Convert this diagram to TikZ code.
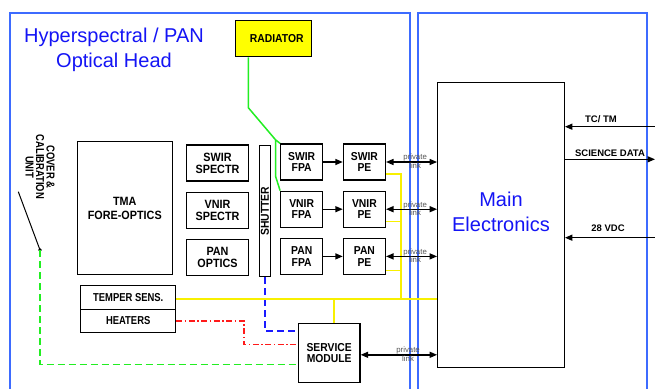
\documentclass[tikz,border=0pt]{standalone}
\usepackage{fontspec}
\setmainfont{Liberation Sans}
\newfontfamily\narrowsans[FakeStretch=0.9]{Liberation Sans}
\newfontfamily\tightsans[FakeStretch=0.82]{Liberation Sans}
\usetikzlibrary{arrows.meta,positioning,calc}
\definecolor{frameBlue}{HTML}{3D6BFF}
\definecolor{titleBlue}{HTML}{1414F5}
\definecolor{radYellow}{HTML}{FFFF00}
\definecolor{wireGreen}{HTML}{22EE22}
\definecolor{wireYellow}{HTML}{F8F000}
\definecolor{wireRed}{HTML}{FF1A1A}
\definecolor{wireBlue}{HTML}{1A1AFF}
\definecolor{linkGray}{HTML}{555555}

\begin{document}
\begin{tikzpicture}[x=1pt, y=-1pt, node distance=10pt and 19.5pt]
\tikzset{unit/.style={rectangle, draw=black, line width=1.2pt, fill=white, align=center,
  font=\narrowsans\bfseries\fontsize{11.5}{11.5}\selectfont, inner sep=1pt},
 fpabox/.style={unit, minimum width=42pt, minimum height=36pt},
 optbox/.style={unit, minimum width=62.6pt, minimum height=36pt, font=\narrowsans\bfseries\fontsize{12}{12}\selectfont},
 strip/.style={unit, minimum width=95pt, minimum height=23.4pt, font=\tightsans\bfseries\fontsize{11.5}{12}\selectfont},
 panel/.style={draw=frameBlue, line width=1.4pt},
 arr/.style={-{Triangle[length=7.5pt,width=6pt]}, line width=1.4pt},
 darr/.style={{Triangle[length=7.5pt,width=6pt]}-{Triangle[length=7.5pt,width=6pt]}, line width=1.4pt},
 linklbl/.style={font=\fontsize{7.8}{8}\selectfont, text=linkGray, inner sep=0.3pt},
 siglbl/.style={font=\bfseries\fontsize{9.5}{10}\selectfont, inner sep=1pt, anchor=south},
 bluetext/.style={font=\fontsize{20}{25}\selectfont, text=titleBlue, align=center},
 gwire/.style={draw=wireGreen, line width=1.5pt},
 ywire/.style={draw=wireYellow, line width=1.6pt},
 gdash/.style={draw=wireGreen, line width=1.5pt, dash pattern=on 7pt off 4pt},
 bdash/.style={draw=wireBlue, line width=1.7pt, dash pattern=on 7pt off 4pt},
 rdashdot/.style={draw=wireRed, line width=1.3pt, dash pattern=on 6pt off 2.5pt on 1.5pt off 2.5pt}}

\useasboundingbox (0,0) rectangle (655,388);
\fill[white] (0,0) rectangle (655,388);

% the two housings
\draw[panel] (10,392) |- (410,13) -- (410,392);
\draw[panel] (418,392) |- (647,13) -- (647,392);
\node[bluetext] (title) at (114,50) {Hyperspectral / PAN\\Optical Head};

% optical head
\node[unit, fill=radYellow, minimum width=76pt, minimum height=36pt] (radiator) at (273.7,38.7) {\hspace{6pt}RADIATOR};
\node[unit, minimum width=95pt, minimum height=132.6pt, font=\narrowsans\bfseries\fontsize{12}{14}\selectfont] (tma) at (124.8,208) {TMA\\FORE-OPTICS};

\node[optbox] (swirspec) at (217.5,163) {SWIR\\SPECTR};
\node[optbox, below=of swirspec] (vnirspec) {VNIR\\SPECTR};
\node[optbox, below=of vnirspec] (panopt) {PAN\\OPTICS};
\node[unit, rotate=90, minimum width=131pt, minimum height=10.7pt, inner sep=0pt] (shutter) at (265,211.2) {SHUTTER};

\node[fpabox] (swirfpa) at (301.7,162) {SWIR\\FPA};
\node[fpabox, right=of swirfpa] (swirpe) {SWIR\\PE};
\node[fpabox, below=of swirfpa] (vnirfpa) {VNIR\\FPA};
\node[fpabox, right=of vnirfpa] (vnirpe) {VNIR\\PE};
\node[fpabox, below=of vnirfpa] (panfpa) {PAN\\FPA};
\node[fpabox, right=of panfpa] (panpe) {PAN\\PE};

\node[strip] (temper) at (128.2,297.5) {TEMPER SENS.};
\node[strip, below=-1.2pt of temper] (heaters) {HEATERS};
\node[unit, minimum width=61.7pt, minimum height=59pt] (service) at (329.2,352.8) {SERVICE\\MODULE};

\node[rotate=-90, align=center, inner sep=0pt, font=\tightsans\bfseries\fontsize{11.5}{10.5}\selectfont] (cover) at (40,167) {COVER \&\\CALIBRATION\\UNIT};
\coordinate (leverTop) at (18.3,191.7);
\coordinate (leverPin) at (40,250);
\draw[line width=1pt] (leverTop) -- (leverPin);
\fill (leverPin) circle (1.8pt);

% main electronics
\node[unit, minimum width=126.6pt, minimum height=285pt] (mainel) at (501,225.2) {};
\node[bluetext] (mainlbl) at (501,212.3) {Main\\Electronics};

% harness
\coordinate (gbend) at (248.3,107.7);
\coordinate (gsplit) at (275.7,140);
\draw[gwire] ([xshift=-25.4pt]radiator.south) -- (gbend) -- (gsplit) -- (swirfpa.north west);
\draw[gwire] (gsplit) -- ++(0,36.7) -- (vnirfpa.north west);
\draw[gdash] (leverPin) |- ([yshift=18.5pt]service.south west);
\draw[bdash] (shutter.west) |- ([yshift=-8.4pt]service.north west);
\draw[rdashdot] (heaters.east) -- ++(67.6,0) |- ([yshift=-21.7pt]service.north west);
\draw[ywire] ([yshift=-1.5pt]temper.east) -- ([yshift=-1.5pt]temper.east -| mainel.west) coordinate (ybusFoot);
\draw[ywire] ([xshift=5pt]service.north) -- ([xshift=5pt]service.north |- ybusFoot);
\draw[ywire] ([yshift=6.5pt]swirpe.south east) -- ++(15,0) coordinate (ybus) -- (ybus |- ybusFoot);
\draw[ywire] ([yshift=6.5pt]vnirpe.south east) -- ++(15,0);
\draw[ywire] ([yshift=4.5pt]panpe.south east) -- ++(15,0);

% data links
\draw[arr] (swirfpa) -- (swirpe);
\draw[arr] (vnirfpa) -- (vnirpe);
\draw[arr] (panfpa) -- (panpe);
\draw[darr] (swirpe.east) -- (swirpe.east -| mainel.west)
  node[linklbl, pos=0.57, above=-0.5pt] (privA) {private} node[linklbl, pos=0.57, below=-0.2pt] (linkA) {link};
\draw[darr] (vnirpe.east) -- (vnirpe.east -| mainel.west)
  node[linklbl, pos=0.57, above=-0.5pt] (privB) {private} node[linklbl, pos=0.57, below=-0.2pt] (linkB) {link};
\draw[darr] (panpe.east) -- (panpe.east -| mainel.west)
  node[linklbl, pos=0.57, above=-0.5pt] (privC) {private} node[linklbl, pos=0.57, below=-0.2pt] (linkC) {link};
\draw[darr] ([yshift=-2pt]service.east) -- ([yshift=-2pt]service.east -| mainel.west)
  node[linklbl, pos=0.62, above=-0.5pt] (privD) {private} node[linklbl, pos=0.62, below=-0.2pt] (linkD) {link};

% spacecraft interface
\coordinate (tctmEnd) at (655,126.7);
\coordinate (sciEnd) at (655,159.3);
\coordinate (pwrEnd) at (655,237.7);
\draw[arr] (tctmEnd) -- (tctmEnd -| mainel.east);
\draw[arr] (sciEnd -| mainel.east) -- (sciEnd);
\draw[arr] (pwrEnd) -- (pwrEnd -| mainel.east);
\node[siglbl] (tctmLbl) at (601,124.3) {TC/ TM};
\node[siglbl] (sciLbl) at (610,157.7) {SCIENCE DATA};
\node[siglbl] (pwrLbl) at (608,233) {28 VDC};
\end{tikzpicture}
\end{document}
